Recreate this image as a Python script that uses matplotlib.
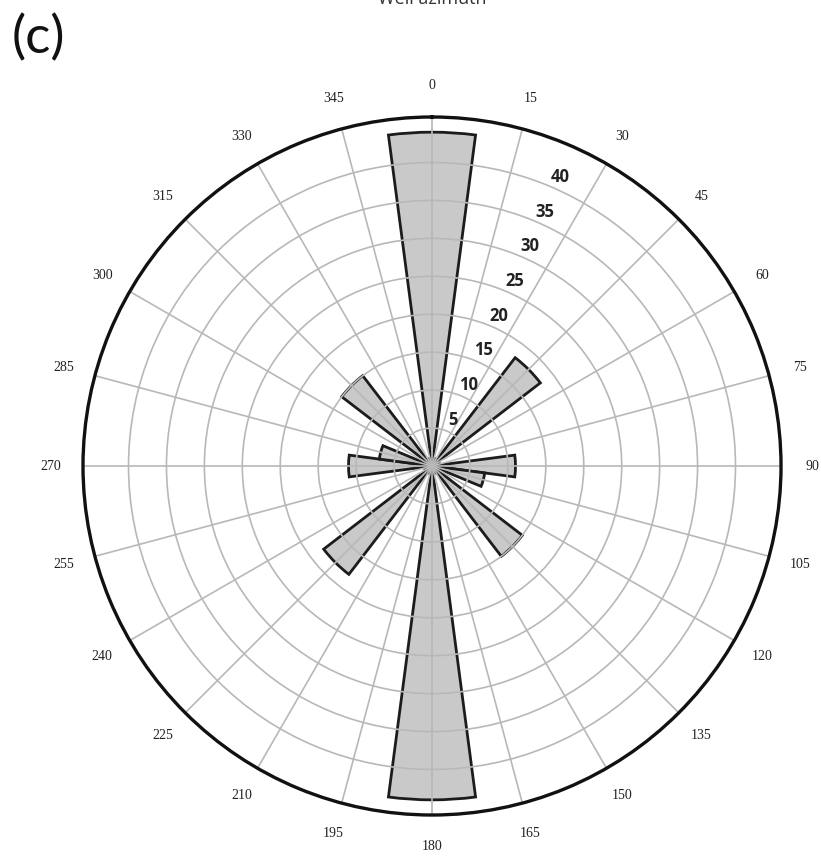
import numpy as np
import matplotlib.pyplot as plt

# 15 degree bins, axial data (well azimuth rose)
bin_centers = list(range(0, 360, 15))
counts = [44, 1, 1, 18, 1, 1, 11, 7, 1, 15, 1, 1,
          44, 1, 1, 18, 1, 1, 11, 7, 1, 15, 1, 1]
r_ticks = [5, 10, 15, 20, 25, 30, 35, 40]
theta_labels = [str(a) for a in bin_centers]

fig = plt.figure(figsize=(8.21, 8.59), dpi=100)
ax = fig.add_axes([0.1011, 0.0512, 0.8502, 0.8126], projection="polar")
ax.set_theta_zero_location("N")
ax.set_theta_direction(-1)
ax.set_ylim(0, 46)

ax.bar(np.deg2rad(bin_centers), counts, width=np.deg2rad(15), align="center",
       color="#c9c9c9", edgecolor="#1c1c1c", linewidth=2)

ax.set_xticks(np.deg2rad(bin_centers))
ax.set_xticklabels([])
ax.set_yticks(r_ticks)
ax.set_yticklabels([])
ax.grid(color="#b8b8b8", linewidth=1.2)
ax.spines["polar"].set_linewidth(2.4)
ax.spines["polar"].set_color("#111111")

for a, lab in zip(bin_centers, theta_labels):
    ax.text(np.deg2rad(a), 50.2, lab, ha="center", va="center",
            fontsize=10, family="Liberation Serif", color="#222222", clip_on=False)

for v in r_ticks:
    ax.text(np.deg2rad(24), v + 1.7, str(v), ha="center", va="center",
            fontsize=12, fontweight="bold", family="Open Sans", color="#222222")

fig.text(0.526, 1 - 4 / 859, "Well azimuth", ha="center", va="baseline",
         fontsize=13, family="Open Sans", color="#333333")
fig.text(12 / 821, 1 - 38 / 859, "(c)", ha="left", va="center",
         fontsize=38, family="Lato", color="#111111")

fig.savefig("out.png", dpi=100)
